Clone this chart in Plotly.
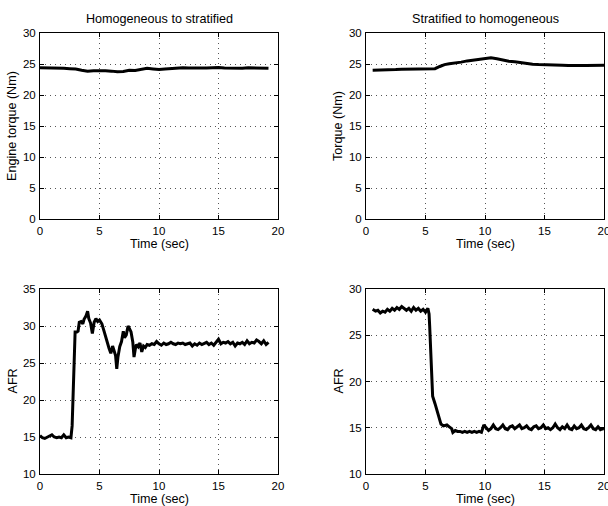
import plotly.graph_objects as go

# ---- data ----
t_tq1 = [0, 0.5, 1, 1.5, 2, 2.5, 3, 3.5, 4, 4.5, 5, 5.5, 6, 6.5, 7, 7.5, 8, 8.5, 9, 9.5,
         10, 10.5, 11, 11.5, 12, 12.5, 13, 13.5, 14, 14.5, 15, 15.5, 16, 16.5, 17, 17.5,
         18, 18.5, 19, 19.2]
tq1 = [24.4, 24.4, 24.35, 24.3, 24.3, 24.25, 24.2, 24.0, 23.85, 23.9, 23.95, 23.9, 23.85,
       23.75, 23.8, 24.0, 23.95, 24.1, 24.3, 24.2, 24.1, 24.2, 24.3, 24.4, 24.4, 24.35,
       24.3, 24.35, 24.35, 24.4, 24.45, 24.35, 24.3, 24.35, 24.3, 24.4, 24.35, 24.3, 24.3, 24.3]

t_tq2 = [0.56, 1, 1.5, 2, 2.5, 3, 3.5, 4, 4.5, 5, 5.5, 5.8, 6.2, 6.6, 7, 7.5, 8, 8.5, 9,
         9.5, 10, 10.5, 11, 11.5, 12, 12.5, 13, 13.5, 14, 14.5, 15, 15.5, 16, 16.5, 17,
         17.5, 18, 18.5, 19, 19.5, 20]
tq2 = [24.0, 24.05, 24.1, 24.1, 24.1, 24.15, 24.15, 24.2, 24.2, 24.2, 24.2, 24.25, 24.6,
       24.9, 25.05, 25.15, 25.3, 25.5, 25.65, 25.8, 25.9, 26.0, 25.85, 25.6, 25.45, 25.35,
       25.2, 25.05, 24.95, 24.9, 24.9, 24.85, 24.85, 24.8, 24.75, 24.7, 24.75, 24.75, 24.8,
       24.8, 24.8]

t_afr1 = [0.0, 0.2, 0.4, 0.6, 0.8, 1.0, 1.2, 1.4, 1.6, 1.8, 2.0, 2.2, 2.4, 2.6, 2.7, 2.8,
          2.9, 2.95, 3.1, 3.2, 3.3, 3.45, 3.6, 3.7, 3.85, 4.0, 4.1, 4.25, 4.4, 4.55, 4.7,
          4.85, 5.0, 5.2, 5.4, 5.6, 5.8, 5.95, 6.1, 6.2, 6.35, 6.45, 6.55, 6.7, 6.85, 7.0,
          7.1, 7.25, 7.4, 7.5, 7.65, 7.8, 7.9, 8.0, 8.1, 8.25, 8.4, 8.55, 8.7, 8.85, 9.0,
          9.2, 9.4, 9.6, 9.8, 10.0, 10.2, 10.4, 10.6, 10.8, 11.0, 11.2, 11.4, 11.6, 11.8,
          12.0, 12.2, 12.4, 12.6, 12.8, 13.0, 13.2, 13.4, 13.6, 13.8, 14.0, 14.2, 14.4,
          14.6, 14.8, 15.0, 15.2, 15.4, 15.6, 15.8, 16.0, 16.2, 16.4, 16.6, 16.8, 17.0,
          17.2, 17.4, 17.6, 17.8, 18.0, 18.2, 18.4, 18.6, 18.8, 19.0, 19.2]
afr1 = [15.2, 14.9, 14.8, 15.0, 15.1, 15.3, 15.0, 14.9, 15.0, 14.9, 15.3, 14.9, 15.0, 14.9,
        16.5, 21.0, 26.5, 29.2, 29.2, 29.3, 30.5, 30.6, 30.3, 30.9, 31.3, 32.0, 31.0, 30.4,
        29.0, 30.5, 31.0, 30.6, 30.8, 30.3, 29.2, 28.0, 27.0, 26.3, 27.3, 26.8, 26.0, 24.2,
        25.8, 27.2, 27.9, 29.3, 28.4, 28.8, 30.0, 29.7, 29.2, 27.8, 25.8, 26.8, 27.5, 27.2,
        27.7, 26.5, 27.3, 27.1, 27.5, 27.4, 27.6, 27.5, 27.9, 27.6, 27.4, 27.7, 27.5, 27.6,
        27.8, 27.6, 27.5, 27.7, 27.6, 27.7, 27.5, 27.6, 27.7, 27.3, 27.6, 27.4, 27.7, 27.5,
        27.6, 27.8, 27.5, 27.7, 27.4, 27.8, 28.2, 27.6, 27.8, 27.7, 27.9, 27.6, 27.8, 27.3,
        27.7, 27.6, 27.8, 27.5, 28.0, 27.6, 27.8, 27.7, 28.1, 27.9, 27.6, 28.0, 27.5, 27.8]

t_afr2 = [0.56, 0.8, 1.0, 1.2, 1.4, 1.6, 1.8, 2.0, 2.2, 2.4, 2.6, 2.8, 3.0, 3.2, 3.4, 3.6,
          3.8, 4.0, 4.2, 4.4, 4.6, 4.8, 5.0, 5.2, 5.3, 5.35, 5.45, 5.53, 5.6, 5.8, 6.0,
          6.15, 6.3, 6.5, 6.8, 7.0, 7.2, 7.3, 7.5, 7.7, 7.9, 8.1, 8.3, 8.5, 8.7, 8.9, 9.1,
          9.3, 9.5, 9.7, 9.9, 10.1, 10.3, 10.5, 10.7, 10.9, 11.1, 11.3, 11.5, 11.7, 11.9,
          12.1, 12.3, 12.5, 12.7, 12.9, 13.1, 13.3, 13.5, 13.7, 13.9, 14.1, 14.3, 14.5,
          14.7, 14.9, 15.1, 15.3, 15.5, 15.7, 15.9, 16.1, 16.3, 16.5, 16.7, 16.9, 17.1,
          17.3, 17.5, 17.7, 17.9, 18.1, 18.3, 18.5, 18.7, 18.9, 19.1, 19.3, 19.5, 19.7,
          19.9, 20.0]
afr2 = [27.8, 27.6, 27.7, 27.4, 27.6, 27.5, 27.8, 27.6, 27.9, 27.7, 28.0, 27.8, 28.1, 27.9,
        27.7, 27.9, 27.6, 28.0, 27.7, 27.9, 27.6, 27.8, 27.5, 27.9, 27.3, 26.0, 22.5, 20.0,
        18.4, 17.6, 16.8, 16.0, 15.4, 15.2, 15.3, 15.1, 14.9, 14.5, 14.7, 14.6, 14.6, 14.5,
        14.6, 14.5, 14.6, 14.5, 14.6, 14.5, 14.6, 14.5, 15.3, 15.0, 14.7, 14.9, 15.3, 14.9,
        14.8, 15.0, 15.3, 14.9, 14.8, 15.1, 15.2, 14.9, 15.1, 15.3, 14.9, 15.0, 15.2, 14.9,
        14.8, 15.1, 15.2, 14.9, 15.0, 15.3, 14.9, 15.0, 14.8, 15.0, 15.4, 15.0, 14.8, 15.1,
        14.9, 15.3, 14.9, 14.8, 15.2, 14.9, 15.0, 15.3, 14.9, 14.8, 15.0, 15.3, 14.9, 14.8,
        15.1, 14.8, 14.9, 14.8]

titles = ["Homogeneous to stratified", "Stratified to homogeneous"]
ylabels = ["Engine torque (Nm)", "Torque (Nm)", "AFR", "AFR"]
xlabel = "Time (sec)"

W, H = 608, 506
FONT = "Liberation Sans, Arial, Helvetica, sans-serif"
LBL = 12.6
TCK = 11.5

# plot areas in pixels (left, right, top, bottom)
boxes = [(40, 278, 33, 219), (366, 604, 33, 219), (40, 278, 289, 474), (366, 604, 289, 474)]
yranges = [[0, 30], [0, 30], [10, 35], [10, 30]]

series = [(t_tq1, tq1), (t_tq2, tq2), (t_afr1, afr1), (t_afr2, afr2)]

fig = go.Figure()
layout = dict(width=W, height=H,
              margin=dict(l=0, r=0, t=0, b=0, pad=0, autoexpand=False),
              paper_bgcolor="white", plot_bgcolor="white", showlegend=False,
              font=dict(family=FONT, size=LBL, color="black"))
annotations = []
for i, ((x0, x1, y0, y1), (tx, ty)) in enumerate(zip(boxes, series)):
    n = "" if i == 0 else str(i + 1)
    fig.add_trace(go.Scatter(x=tx, y=ty, mode="lines", xaxis="x" + n, yaxis="y" + n,
                             line=dict(color="black", width=3)))
    common = dict(showline=True, linecolor="black", linewidth=1, mirror="ticks",
                  ticks="inside", ticklen=4, tickcolor="black", showgrid=True,
                  gridcolor="#555", gridwidth=1, griddash="1px,4px", zeroline=False,
                  automargin=False, ticklabeloverflow="allow",
                  tickfont=dict(family=FONT, size=TCK, color="black"))
    layout["xaxis" + n] = dict(common, domain=[x0 / W, x1 / W], range=[0, 20], dtick=5,
                               anchor="y" + n, ticklabelstandoff=1)
    layout["yaxis" + n] = dict(common, domain=[1 - y1 / H, 1 - y0 / H], range=yranges[i],
                               dtick=5, anchor="x" + n, ticklabelstandoff=1)
    cx = (x0 + x1) / 2
    annotations.append(dict(text=xlabel, x=cx / W, y=1 - (y1 + 25) / H, xref="paper",
                            yref="paper", showarrow=False, xanchor="center", yanchor="middle",
                            font=dict(family=FONT, size=LBL)))
    annotations.append(dict(text=ylabels[i], x=(x0 - 28) / W, y=1 - ((y0 + y1) / 2) / H,
                            xref="paper", yref="paper", showarrow=False, textangle=-90,
                            xanchor="center", yanchor="middle", font=dict(family=FONT, size=LBL)))
    if i < 2:
        annotations.append(dict(text=titles[i], x=cx / W, y=1 - 19 / H, xref="paper",
                                yref="paper", showarrow=False, xanchor="center",
                                yanchor="middle", font=dict(family=FONT, size=LBL)))
layout["annotations"] = annotations
fig.update_layout(**layout)
fig.write_html("out.html", config={"displayModeBar": False},
               post_script="document.body.style.margin='0px';document.body.style.padding='0px';")
